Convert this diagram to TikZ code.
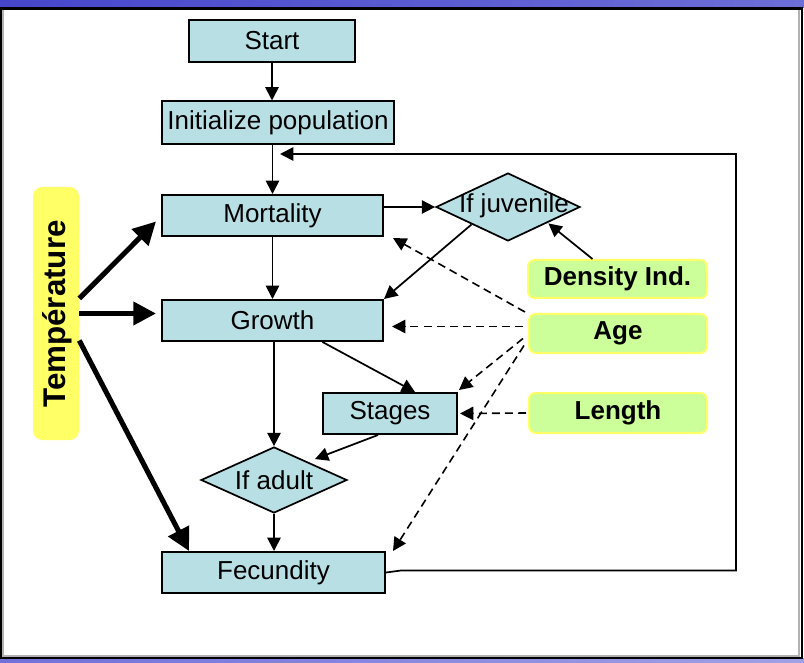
\documentclass[tikz,border=0pt]{standalone}
\usepackage{fontspec}
\setmainfont{Liberation Sans}
\usepackage{graphicx}
\usetikzlibrary{arrows.meta,positioning,shapes.geometric}
\definecolor{boxblue}{RGB}{184,224,228}
\definecolor{factgreen}{RGB}{204,255,153}
\definecolor{factyellow}{RGB}{255,255,102}
\definecolor{barblue}{RGB}{70,70,204}
\definecolor{barlight}{RGB}{120,120,218}
\def\px{0.75pt}
\newcommand{\diagfont}{\fontsize{19.5}{23}\selectfont}
\tikzset{
 >={Triangle[length=10pt,width=10pt]},
 stepbox/.style={shape=rectangle,draw,line width=1.5pt,fill=boxblue,inner sep=0pt},
 testbox/.style={shape=diamond,draw,line width=1.3pt,fill=boxblue,inner sep=0pt},
 factor/.style={shape=rectangle,rounded corners=5pt,draw=factyellow,line width=1.5pt,fill=factgreen,inner sep=0pt,font=\diagfont\bfseries},
 flow/.style={->,line width=1.3pt},
 influence/.style={->,line width=1.2pt,dash pattern=on 6pt off 3.8pt},
 heavy/.style={-{Triangle[length=17pt,width=17pt]},line width=3.8pt}
}

\begin{document}
\begin{tikzpicture}[x=0.75pt,y=-0.75pt,font=\diagfont]
\useasboundingbox (0,0) rectangle (804,663);
% frame
\fill[white] (0,0) rectangle (804,663);
\shade[left color=barblue,right color=barlight!80!barblue] (0,0) rectangle (804,7.5);
\shade[left color=barlight!85!barblue,right color=barlight!70!white] (0,658.5) rectangle (804,663);
\draw[gray!60,line width=1pt] (3,9.5) rectangle (799,656);
\draw[black,line width=2pt] (1,8.2) rectangle (802,658);

% steps
\path (272,41) node[stepbox,name=start,minimum width=166*\px,minimum height=42*\px] {Start};
\path (278,123) node[stepbox,name=init,minimum width=232*\px,minimum height=43*\px] {Initialize population};
\path (272.5,215.5) node[stepbox,name=mort,minimum width=221*\px,minimum height=41*\px] {Mortality};
\path (272.5,320.5) node[stepbox,name=growth,minimum width=221*\px,minimum height=41*\px] {Growth};
\path (390,413.5) node[stepbox,name=stages,minimum width=134*\px,minimum height=41*\px] {Stages};
\path (273.5,572.5) node[stepbox,name=fec,minimum width=223*\px,minimum height=41*\px] {Fecundity};

% tests
\path (274,480) node[testbox,name=adult,minimum width=146*\px,minimum height=66*\px] {};
\path (adult) node[name=adulttext] {If adult};
\path (508,207) node[testbox,name=juv,minimum width=144*\px,minimum height=68*\px] {};
\path (514,206) node[name=juvtext] {If juvenile};

% factors
\path (617.5,279) node[factor,name=dens,minimum width=179*\px,minimum height=38*\px] {Density Ind.};
\path (618,333.5) node[factor,name=age,minimum width=178*\px,minimum height=39*\px] {Age};
\path (618,413) node[factor,name=len,minimum width=178*\px,minimum height=40*\px] {Length};
\path (56,313.5) node[shape=rectangle,rounded corners=7pt,fill=factyellow,inner sep=0pt,name=temp,minimum width=46*\px,minimum height=253*\px] {};
\path (57,314) node[font=\fontsize{23.5}{27}\selectfont\bfseries,inner sep=0pt,name=temptext] {\rotatebox{90}{Température}};

% main flow
\path[flow] (start.south) edge (start.south |- init.north);
\path[flow] (init.south -| mort.north) edge (mort.north);
\path[flow] (mort) edge (growth);
\path[flow] (growth.south -| adult.north) edge (adult.north);
\path[flow] (adult.south) edge (adult.south |- fec.north);
\path[flow] (mort.east |- juv.west) edge (juv.west);
\path[flow] (juv.south west) edge (growth.north east);
\path[flow] ([xshift=50*\px]growth.south) edge ([xshift=25*\px]stages.north);
\path[flow] ([xshift=-12*\px]stages.south) edge ([xshift=4*\px,yshift=4*\px]adult.north east);
\path[flow] ([xshift=-25*\px]dens.north) edge ([xshift=4*\px,yshift=1*\px]juv.south east);

% loop back
\coordinate (back) at (280,154);
\coordinate (corner) at (736,154);
\draw[flow] (fec.east) -- ++(15,-2) -| (corner) -- (back);

% influences
\path[influence] ([xshift=-3*\px,yshift=1*\px]age.north west) edge ([xshift=9*\px,yshift=-1*\px]mort.south east);
\path[influence] ([xshift=-5*\px,yshift=7*\px]age.west) edge ([xshift=8*\px,yshift=-6*\px]growth.east);
\path[influence] ([xshift=-5*\px,yshift=-5*\px]age.west) edge ([xshift=1*\px,yshift=2*\px]stages.north east);
\path[influence] ([xshift=-4*\px,yshift=-12*\px]age.west) edge ([xshift=7*\px]fec.north east);
\path[influence] ([xshift=-2*\px]len.west) edge ([xshift=2*\px]stages.east);

% temperature
\path[heavy] ([yshift=15*\px]temp.east) edge ([xshift=-5*\px,yshift=-6*\px]mort.west);
\path[heavy] (temp.east) edge ([xshift=-5*\px,yshift=7*\px]growth.west);
\path[heavy] ([yshift=-27*\px]temp.east) edge ([xshift=28*\px]fec.north west);
\end{tikzpicture}
\end{document}
